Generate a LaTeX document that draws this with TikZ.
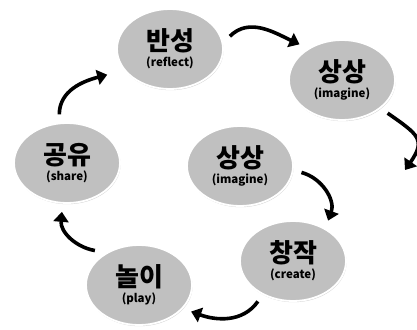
\documentclass[tikz,border=0pt]{standalone}
\usepackage{fontspec}
\newfontfamily\kr{Noto Sans CJK KR}
\usetikzlibrary{shapes.geometric,arrows.meta,shadows}
\definecolor{bubble}{HTML}{C0C0C0}

\begin{document}
\begin{tikzpicture}[x=1pt,y=1pt,
	stage/.style={ellipse,fill=bubble,draw=white,line width=1.8pt,minimum width=106pt,minimum height=80pt,inner sep=0pt,outer sep=9pt,align=center,
		drop shadow={shadow xshift=0.6pt,shadow yshift=-1.2pt,opacity=0.35,fill=gray}},
	cyc/.style={line width=3.6pt,-{Triangle[length=10pt,width=15pt]}}]
	\useasboundingbox (0,0) rectangle (417,329);
	% stages of the cycle
	\node[stage] (ref) at (170,280) {{\kr\bfseries\fontsize{26}{26}\selectfont 반성}\\[3pt]{\kr\bfseries\fontsize{11.5}{13}\selectfont (reflect)}};
	\node[stage] (im1) at (342,249) {{\kr\bfseries\fontsize{26}{26}\selectfont 상상}\\[3pt]{\kr\bfseries\fontsize{11.5}{13}\selectfont (imagine)}};
	\node[stage] (im2) at (240,163) {{\kr\bfseries\fontsize{26}{26}\selectfont 상상}\\[3pt]{\kr\bfseries\fontsize{11.5}{13}\selectfont (imagine)}};
	\node[stage] (share) at (67,166) {{\kr\bfseries\fontsize{26}{26}\selectfont 공유}\\[3pt]{\kr\bfseries\fontsize{11.5}{13}\selectfont (share)}};
	\node[stage] (make) at (293,68) {{\kr\bfseries\fontsize{26}{26}\selectfont 창작}\\[3pt]{\kr\bfseries\fontsize{11.5}{13}\selectfont (create)}};
	\node[stage] (play) at (139,44) {{\kr\bfseries\fontsize{26}{26}\selectfont 놀이}\\[3pt]{\kr\bfseries\fontsize{11.5}{13}\selectfont (play)}};
	\coordinate (off) at (405,159);
	% arrows
	\draw[cyc] (ref.12) to[out=45,in=155] (im1.140);
	\draw[cyc] (im1.-36) to[out=-35,in=55,looseness=1.6] (off);
	\draw[cyc] (im2.-6) to[out=-15,in=70] (make.49);
	\draw[cyc] (make.229) to[out=-125,in=-20] (play.-27);
	\draw[cyc] (play.142) to[out=170,in=-95] (share.-96);
	\draw[cyc] (share.99) to[out=90,in=195] ([xshift=-10pt]ref.206);
\end{tikzpicture}
\end{document}
